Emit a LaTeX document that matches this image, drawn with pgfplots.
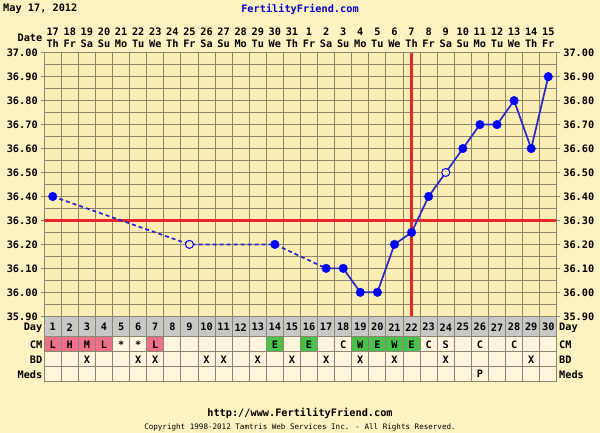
\documentclass[border=0pt]{standalone}
\usepackage{fontspec}
\setmainfont{DejaVu Sans Mono}
\usepackage{pgfplots}
\pgfplotsset{compat=1.18}
\definecolor{bgc}{HTML}{FFF2C2}
\definecolor{plotbg}{HTML}{FAEEB4}
\definecolor{cellbg}{HTML}{FFF6DC}
\definecolor{gridc}{HTML}{8C8572}
\definecolor{dayrow}{HTML}{C8C8C8}
\definecolor{pinkc}{HTML}{F0708A}
\definecolor{greenc}{HTML}{4CC04C}
\definecolor{ptblue}{HTML}{0000FF}
\definecolor{lnblue}{HTML}{2828C8}
\definecolor{redc}{HTML}{E82828}
\definecolor{linkblue}{HTML}{0000CC}
\newcommand{\tf}{\fontsize{10.3}{10.3}\selectfont\bfseries}
\newcommand{\smallf}{\fontsize{7.6}{8}\selectfont}
\begin{document}
\begin{tikzpicture}[x=1bp,y=1bp]
\fill[bgc] (0,0) rectangle (600,433);
\pgfplotsset{tempaxis/.style={
  at={(44.2bp,116.7bp)}, anchor=south west,
  scale only axis, width=512.6bp, height=263.6bp,
  xmin=0.5, xmax=30.5, ymin=35.9, ymax=37.0,
  ytick={35.9,36.0,36.1,36.2,36.3,36.4,36.5,36.6,36.7,36.8,36.9,37.0},
  yticklabel style={font=\tf, text=black, inner ysep=0pt},
  /pgf/number format/.cd, fixed, fixed zerofill, precision=2, assume math mode=true,
  /pgfplots/.cd,
  tick align=outside, major tick length=3bp,
  tick style={gridc, line width=0.9bp},
}}
\begin{axis}[tempaxis,
  axis background/.style={fill=plotbg},
  xtick={0.5,1.5,...,30.5}, xticklabels={},
  minor ytick={35.95,36.05,36.15,36.25,36.35,36.45,36.55,36.65,36.75,36.85,36.95},
  grid=both,
  major grid style={gridc, line width=0.9bp},
  minor grid style={gridc, line width=0.9bp},
  axis line style={gridc, line width=0.9bp},
  xtick style={draw=none}, minor tick length=0pt,
  yticklabel pos=left,
]
\addplot[redc, line width=3bp] coordinates {(0.5,36.30) (30.5,36.30)};
\addplot[redc, line width=3bp] coordinates {(22,35.9) (22,37.0)};
\addplot[lnblue, line width=1.7bp, dash pattern=on 4bp off 3bp] coordinates {(1,36.40) (9,36.20) (14,36.20) (17,36.10)};
\addplot[lnblue, line width=1.7bp] coordinates {(17,36.10) (18,36.10) (19,36.00) (20,36.00) (21,36.20) (22,36.25) (23,36.40) (24,36.50) (25,36.60) (26,36.70) (27,36.70) (28,36.80) (29,36.60) (30,36.90)};
\addplot[only marks, mark=*, mark size=4.3bp, mark options={fill=ptblue, draw=ptblue}] coordinates {(1,36.40) (14,36.20) (17,36.10) (18,36.10) (19,36.00) (20,36.00) (21,36.20) (22,36.25) (23,36.40) (25,36.60) (26,36.70) (27,36.70) (28,36.80) (29,36.60) (30,36.90)};
\addplot[only marks, mark=*, mark size=4.0bp, mark options={fill=plotbg, draw=ptblue, line width=1bp}] coordinates {(9,36.20) (24,36.50)};
\end{axis}
\begin{axis}[tempaxis,
  axis x line=none, axis y line*=right,
  yticklabel pos=right,
  axis line style={gridc, line width=0.9bp},
  minor tick length=0pt,
]
\addplot[draw=none] coordinates {(1,36.5)};
\end{axis}
% ---- table ----
\fill[dayrow] (44.2,96.3) rectangle (556.8,116.7);
\fill[cellbg] (44.2,51.7) rectangle (556.8,96.3);
\foreach \d/\c in {1/pinkc,2/pinkc,3/pinkc,4/pinkc,7/pinkc,14/greenc,16/greenc,19/greenc,20/greenc,21/greenc,22/greenc}{
  \pgfmathsetmacro\xa{44.2+(\d-1)*17.087}
  \pgfmathsetmacro\xb{44.2+\d*17.087}
  \fill[\c] (\xa,81.3) rectangle (\xb,96.3);
}
\foreach \yy in {116.7,96.3,81.3,66.3,51.7}{
  \draw[gridc, line width=0.9bp] (44.2,\yy) -- (556.8,\yy);
}
\foreach \i in {0,...,30}{
  \pgfmathsetmacro\xa{44.2+\i*17.087}
  \draw[gridc, line width=0.9bp] (\xa,51.7) -- (\xa,116.7);
}
\foreach \i in {1,...,30}{
  \pgfmathsetmacro\xc{44.2+(\i-0.5)*17.087}
  \node[font=\tf, inner sep=0pt] at (\xc,105.8) {\i};
}
\foreach \d/\t in {1/L,2/H,3/M,4/L,5/*,6/*,7/L,14/E,16/E,18/C,19/W,20/E,21/W,22/E,23/C,24/S,26/C,28/C}{
  \pgfmathsetmacro\xc{44.2+(\d-0.5)*17.087}
  \node[font=\tf, inner sep=0pt] at (\xc,88.6) {\t};
}
\foreach \d in {3,6,7,10,11,13,15,17,19,21,24,29}{
  \pgfmathsetmacro\xc{44.2+(\d-0.5)*17.087}
  \node[font=\tf, inner sep=0pt] at (\xc,73.6) {X};
}
\foreach \d/\t in {26/P}{
  \pgfmathsetmacro\xc{44.2+(\d-0.5)*17.087}
  \node[font=\tf, inner sep=0pt] at (\xc,58.8) {\t};
}
\foreach \t/\yy in {Day/105.3,CM/88.6,BD/73.6,Meds/58.8}{
  \node[font=\tf, inner sep=0pt, anchor=east] at (42.5,\yy) {\t};
  \node[font=\tf, inner sep=0pt, anchor=west] at (559,\yy) {\t};
}
% ---- date header ----
\foreach \d/\w [count=\i] in {17/Th,18/Fr,19/Sa,20/Su,21/Mo,22/Tu,23/We,24/Th,25/Fr,26/Sa,27/Su,28/Mo,29/Tu,30/We,31/Th,1/Fr,2/Sa,3/Su,4/Mo,5/Tu,6/We,7/Th,8/Fr,9/Sa,10/Su,11/Mo,12/Tu,13/We,14/Th,15/Fr}{
  \pgfmathsetmacro\xc{44.2+(\i-0.5)*17.087}
  \node[font=\tf, inner sep=0pt] at (\xc,401.5) {\d};
  \node[font=\tf, inner sep=0pt] at (\xc,389.5) {\w};
}
\node[font=\tf, inner sep=0pt, anchor=east] at (42.5,395.5) {Date};
\node[font=\tf, inner sep=0pt, anchor=west] at (3,424) {May 17, 2012};
\node[font=\tf, inner sep=0pt, text=linkblue] at (300,424) {FertilityFriend.com};
\node[font=\tf, inner sep=0pt] at (300,20) {http://www.FertilityFriend.com};
\node[font=\smallf, inner sep=0pt] at (300,6) {Copyright 1998-2012 Tamtris Web Services Inc. - All Rights Reserved.};
\pgfresetboundingbox
\useasboundingbox (0,0) rectangle (600,433);
\end{tikzpicture}
\end{document}
